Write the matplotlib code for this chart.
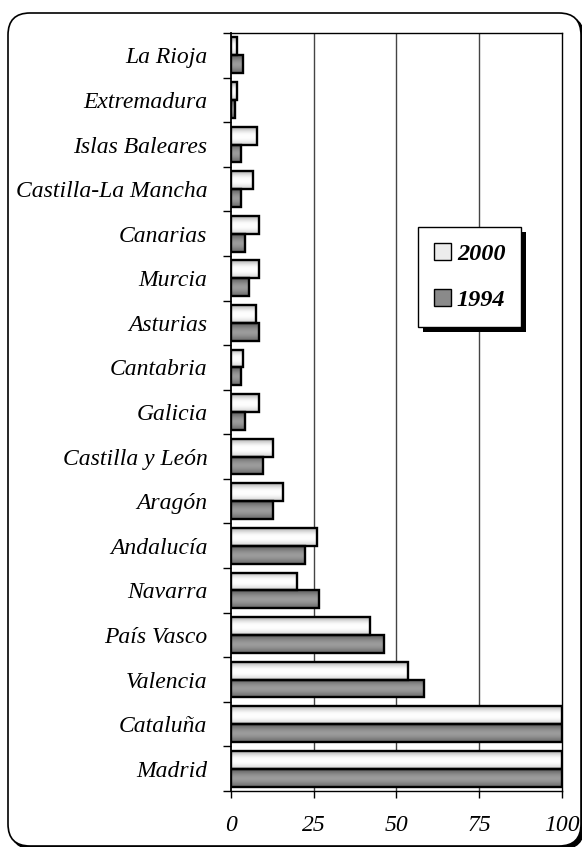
import numpy as np
import matplotlib
matplotlib.use("Agg")
import matplotlib.pyplot as plt
from matplotlib.patches import FancyBboxPatch, Rectangle, Patch

plt.rcParams['font.family'] = ['Liberation Serif', 'DejaVu Serif']
plt.rcParams['font.style'] = 'italic'

# regions listed bottom to top
regions = ["Madrid", "Cataluña", "Valencia", "País Vasco", "Navarra", "Andalucía",
           "Aragón", "Castilla y León", "Galicia", "Cantabria", "Asturias", "Murcia",
           "Canarias", "Castilla-La Mancha", "Islas Baleares", "Extremadura", "La Rioja"]
vals_2000 = [100, 100, 53.6, 42.0, 20.0, 26.1, 15.8, 12.6, 8.5, 3.5, 7.7, 8.5,
             8.5, 6.6, 7.9, 1.7, 1.7]
vals_1994 = [100, 100, 58.4, 46.2, 26.7, 22.5, 12.6, 9.6, 4.1, 2.9, 8.5, 5.3,
             4.1, 2.9, 2.9, 1.1, 3.5]
x_ticks = [0, 25, 50, 75, 100]

# vertical shading profiles (bottom -> top) for the bar fills
light_profile = [0.84, 0.93, 0.99, 1.0, 0.98, 0.88, 0.74]
dark_profile = [0.44, 0.52, 0.59, 0.62, 0.58, 0.5, 0.4]


def shade_bars(ax, bars, profile):
    grad = np.array(profile).reshape(-1, 1)
    for b in bars:
        x0, y0 = b.get_x(), b.get_y()
        ax.imshow(grad, cmap='gray', vmin=0, vmax=1, aspect='auto', origin='lower',
                  interpolation='bicubic', zorder=2,
                  extent=(x0, x0 + b.get_width(), y0, y0 + b.get_height()))


fig = plt.figure(figsize=(5.82, 8.47), dpi=100)

# rounded outer frame with a black drop shadow
fig.add_artist(FancyBboxPatch((0.11, -0.02), 5.73, 8.33,
                              boxstyle="round,pad=0,rounding_size=0.22",
                              transform=fig.dpi_scale_trans, fc='black', ec='black', zorder=-2))
fig.add_artist(FancyBboxPatch((0.08, 0.01), 5.73, 8.33,
                              boxstyle="round,pad=0,rounding_size=0.22",
                              transform=fig.dpi_scale_trans, fc='white', ec='black',
                              lw=1.2, zorder=-1))

ax = fig.add_axes([0.3969, 0.0661, 0.9656 - 0.3969, 0.961 - 0.0661])
ax.set_facecolor('none')

y = np.arange(len(regions))
bh = 0.4
bars_2000 = ax.barh(y + bh / 2, vals_2000, height=bh, facecolor='none',
                    edgecolor='black', linewidth=1.7, zorder=3)
bars_1994 = ax.barh(y - bh / 2, vals_1994, height=bh, facecolor='none',
                    edgecolor='black', linewidth=1.7, zorder=3)
shade_bars(ax, bars_2000, light_profile)
shade_bars(ax, bars_1994, dark_profile)

ax.set_xlim(0, 100)
ax.set_ylim(-0.5, len(regions) - 0.5)

# grid lines
for gx in x_ticks[1:-1]:
    ax.axvline(gx, color='#444444', linewidth=1.0, zorder=1)

ax.set_xticks(x_ticks)
ax.set_xticklabels([str(t) for t in x_ticks], fontsize=17)
ax.tick_params(axis='x', direction='out', length=5, width=1, pad=12)

ax.set_yticks(y)
ax.set_yticklabels(regions, fontsize=17)
ax.tick_params(axis='y', which='major', length=0, pad=17)
ax.set_yticks(np.arange(len(regions) + 1) - 0.5, minor=True)
ax.tick_params(axis='y', which='minor', direction='out', length=6, width=1)

for side in ['left', 'bottom', 'top', 'right']:
    ax.spines[side].set_color('black')
    ax.spines[side].set_linewidth(1.0)
ax.spines['left'].set_linewidth(1.3)

handles = [Patch(facecolor='#ececec', edgecolor='black', linewidth=1.0, label='2000'),
           Patch(facecolor='#8a8a8a', edgecolor='black', linewidth=1.0, label='1994')]
leg = ax.legend(handles=handles, loc='upper left', bbox_to_anchor=(0.565, 0.744),
                prop={'family': 'Liberation Serif', 'style': 'italic',
                      'weight': 'bold', 'size': 17.5},
                frameon=True, fancybox=False, framealpha=1, edgecolor='black',
                handlelength=0.7, handleheight=0.7, handletextpad=0.25,
                labelspacing=1.0, borderpad=0.65, borderaxespad=0)
leg.get_frame().set_linewidth(1.0)
leg.set_zorder(6)

# legend drop shadow
fig.canvas.draw()
bb = leg.get_window_extent().transformed(ax.transAxes.inverted())
dx = 5 / ax.bbox.width
dy = 5 / ax.bbox.height
ax.add_patch(Rectangle((bb.x0 + dx, bb.y0 - dy), bb.width, bb.height,
                       transform=ax.transAxes, fc='black', ec='none', zorder=5.5))

fig.savefig('out.png', dpi=100)
